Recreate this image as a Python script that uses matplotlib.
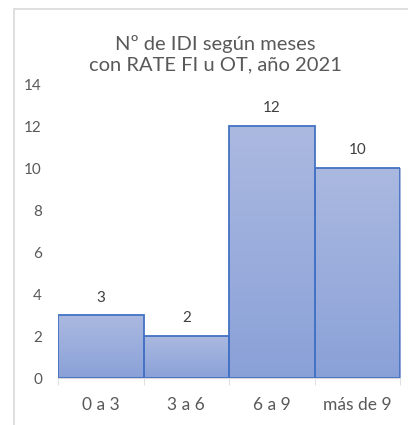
import matplotlib
matplotlib.use('Agg')
import matplotlib.pyplot as plt
from matplotlib.patches import Rectangle
import numpy as np

categorias = ['0 a 3', '3 a 6', '6 a 9', 'más de 9']
valores = [3, 2, 12, 10]

plt.rcParams['font.family'] = ['Lato', 'DejaVu Sans']

fig = plt.figure(figsize=(4.08, 4.25), dpi=100)
# marco gris del gráfico (cortado a la derecha y abajo)
fig.patches.append(Rectangle((14 / 408, -0.5), 2.0, 1.5 - 9 / 425,
                             transform=fig.transFigure, fill=False,
                             edgecolor='#d9d9d9', linewidth=1.2))

ax = fig.add_axes([58 / 408, 1 - 378 / 425, 342 / 408, 294 / 425])
x = np.arange(len(categorias))
bars = ax.bar(x, valores, width=1.0, color='none', edgecolor='#4472c4', linewidth=1.3, zorder=3)

# degradado: claro arriba, más oscuro abajo
grad = np.linspace(0, 1, 256).reshape(-1, 1)
cmap = matplotlib.colors.LinearSegmentedColormap.from_list('g', ['#8aa1d8', '#abb9e0'])
for b in bars:
    xx, yy = b.get_x(), b.get_y()
    w, h = b.get_width(), b.get_height()
    im = ax.imshow(grad, extent=[xx, xx + w, yy, yy + h], origin='lower',
                   cmap=cmap, aspect='auto', zorder=2)
    im.set_clip_path(b)

for xi, v in zip(x, valores):
    ax.text(xi, v + 0.5, str(v), ha='center', va='bottom', fontsize=11, color='#404040')

ax.set_xlim(-0.5, len(categorias) - 0.5)
ax.set_ylim(0, 14)
ax.set_yticks(range(0, 15, 2))
ax.set_xticks(x)
ax.set_xticklabels(categorias)
ax.set_xticks(np.arange(-0.5, len(categorias), 1), minor=True)
ax.tick_params(axis='x', which='major', length=0, pad=14, labelsize=12.5, labelcolor='#595959')
ax.tick_params(axis='x', which='minor', length=5, color='#d9d9d9')
ax.tick_params(axis='y', length=0, pad=11.5, labelsize=11, labelcolor='#595959')
for s in ['top', 'right', 'left']:
    ax.spines[s].set_visible(False)
ax.spines['bottom'].set_color('#d9d9d9')

fig.text(215 / 408, 1 - 54 / 425, 'Nº de IDI según meses\ncon RATE FI u OT, año 2021',
         ha='center', va='center', fontsize=14.5, color='#595959', linespacing=1.25)

fig.savefig('out.png', dpi=100)
